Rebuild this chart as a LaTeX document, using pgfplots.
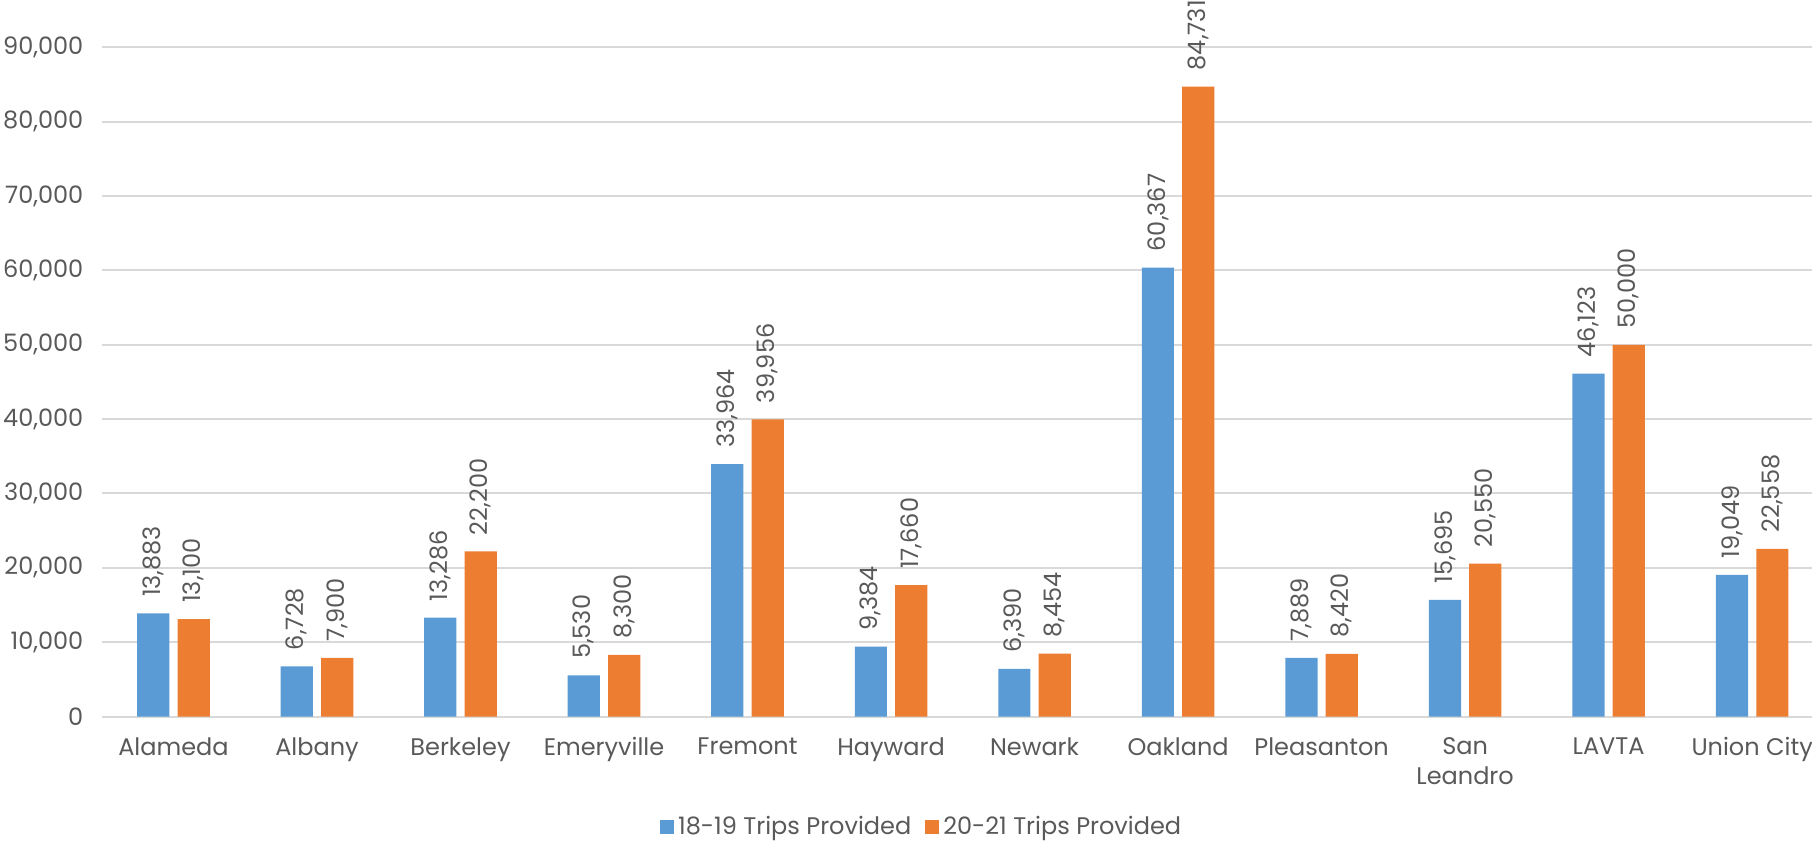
\documentclass[border=0pt]{standalone}
\usepackage{pgfplots}
\pgfplotsset{compat=1.18}
\usepackage{fontspec}
\setmainfont{Poppins}
\definecolor{tripblue}{HTML}{5B9BD5}
\definecolor{triporange}{HTML}{ED7D31}
\definecolor{txtgray}{HTML}{595959}
\definecolor{gridgray}{HTML}{D9D9D9}

\pgfplotstableread{
x  y1819  y2021
0  13883  13100
1  6728   7900
2  13286  22200
3  5530   8300
4  33964  39956
5  9384   17660
6  6390   8454
7  60367  84731
8  7889   8420
9  15695  20550
10 46123  50000
11 19049  22558
}\trips

\begin{document}
\begin{tikzpicture}
\useasboundingbox (0,0) rectangle (906pt,424pt);
\begin{axis}[
  at={(50.85pt,65.75pt)}, anchor=south west,
  scale only axis, width=855.15pt, height=334.55pt,
  clip=false,
  ymin=0, ymax=90000, xmin=-0.5, xmax=11.417,
  ybar=4.1pt, bar width=16.1pt,
  axis line style={draw=none},
  major tick length=0pt,
  ytick={0,10000,...,90000},
  ymajorgrids, grid style={gridgray, line width=1pt},
  yticklabel style={font=\fontsize{12}{14}\selectfont, text=txtgray, inner xsep=0pt, xshift=-9pt},
  /pgf/number format/.cd, fixed, 1000 sep={,}, assume math mode=true, /pgfplots/.cd,
  scaled y ticks=false,
  xtick={0,...,11},
  xticklabels={Alameda,Albany,Berkeley,Emeryville,Fremont,Hayward,Newark,Oakland,Pleasanton,{San\\Leandro},LAVTA,Union City},
  xticklabel style={font=\fontsize{12}{14.8}\selectfont, text=txtgray, align=center, inner sep=0pt, yshift=-10.3pt},
  nodes near coords={\pgfmathprintnumber[fixed,1000 sep={,},assume math mode=true]{\pgfplotspointmeta}},
  every node near coord/.append style={font=\fontsize{12}{14}\selectfont, text=txtgray, rotate=90, anchor=west, inner ysep=0pt, inner xsep=8pt},
  legend style={at={(0.48,-0.165)}, anchor=center, draw=none, fill=none,
    legend columns=2, font=\fontsize{12}{14}\selectfont, text=txtgray,
    /tikz/every even column/.append style={column sep=5pt}},
  legend image code/.code={\fill[#1] (0pt,-3.5pt) rectangle (7pt,3.5pt);},
]
\addplot[fill=tripblue, draw=none] table[x=x, y=y1819] {\trips};
\addplot[fill=triporange, draw=none] table[x=x, y=y2021] {\trips};
\legend{18-19 Trips Provided, 20-21 Trips Provided}
\end{axis}
\end{tikzpicture}
\end{document}
